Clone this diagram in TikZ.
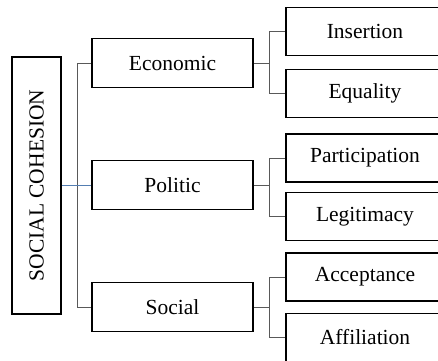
\documentclass[tikz,border=0pt]{standalone}
\usepackage{fontspec}
\setmainfont{Liberation Serif}
\definecolor{linkblue}{RGB}{84,126,178}
\begin{document}
\begin{tikzpicture}[x=1pt,y=-1pt,
  box/.style={draw=black,line width=1.6pt,fill=white,inner sep=0pt,font=\fontsize{21.5}{25}\selectfont},
  lvlone/.style={box,minimum width=161pt,minimum height=49pt},
  lvltwo/.style={box,minimum width=158pt,minimum height=48pt},
  conn/.style={draw=black!65,line width=1pt},
  blueconn/.style={draw=linkblue,line width=1.4pt}]
\useasboundingbox (0,0) rectangle (438,360);
\clip (0,0) rectangle (438,360);
\fill[white] (0,0) rectangle (438,360);
\node[box,minimum width=49pt,minimum height=257pt] (root) at (36.5,185.5) {};
\node[rotate=90,font=\fontsize{21.5}{25}\selectfont] (roottext) at (root.center) {SOCIAL COHESION};
\node[lvlone] (eco) at (172.5,63) {Economic};
\node[lvlone] (pol) at (172.5,185) {Politic};
\node[lvlone] (soc) at (172.5,307) {Social};
\node[lvltwo] (ins) at (365,31.5) {Insertion};
\node[lvltwo] (equ) at (365,93.5) {Equality};
\node[lvltwo] (par) at (365,158) {Participation};
\node[lvltwo] (leg) at (365,216.5) {Legitimacy};
\node[lvltwo] (acc) at (365,277) {Acceptance};
\node[lvltwo] (aff) at (365,337.5) {Affiliation};
% level one bracket
\draw[conn] (eco.west) -- ++(-14,0) coordinate (ba) |- (soc.west);
\draw[blueconn] (root.east) -- (root.east -| pol.west);
% level two brackets
\draw[conn] (ins.west) -- ++(-16,0) coordinate (b1) |- (equ.west);
\draw[conn] (eco.east) -- (eco.east -| b1);
\draw[conn] (par.west) -- ++(-16,0) coordinate (b2) |- (leg.west);
\draw[conn] (pol.east) -- (pol.east -| b2);
\draw[conn] (acc.west) -- ++(-16,0) coordinate (b3) |- (aff.west);
\draw[conn] (soc.east) -- (soc.east -| b3);
\end{tikzpicture}
\end{document}
